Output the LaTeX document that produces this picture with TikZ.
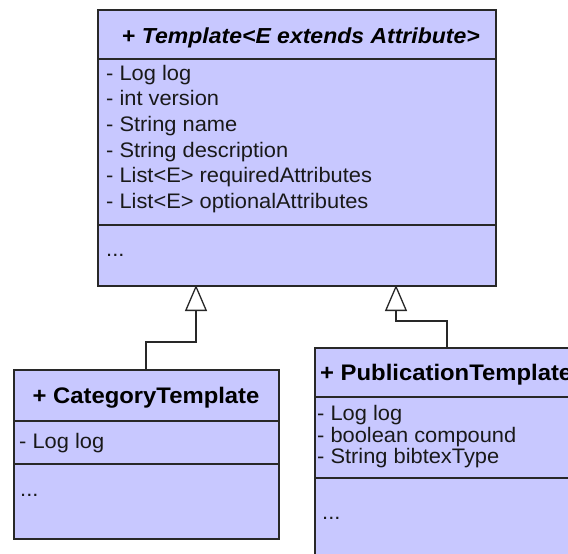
\documentclass[tikz,border=0pt]{standalone}
\usepackage{fontspec}
\setmainfont{Liberation Sans}[FakeStretch=1.04]
\newfontfamily\titlefont{Liberation Sans}[FakeStretch=1.06]
\usetikzlibrary{arrows.meta}
\definecolor{classfill}{RGB}{200,200,255}
\definecolor{edge}{RGB}{40,40,40}
\tikzset{
  classbox/.style={draw=edge, fill=classfill, line width=1.5pt, inner sep=0pt, anchor=north west},
  divider/.style={draw=edge, line width=1.5pt},
  member/.style={anchor=west, inner sep=0pt, font=\fontsize{21pt}{24pt}\selectfont, text=black!90, text height=15pt, text depth=4pt},
  cname/.style={inner sep=0pt, font=\titlefont\fontsize{22.5pt}{26pt}\selectfont\bfseries, text=black, text height=16pt, text depth=4pt},
  inherit/.style={draw=edge, line width=1.3pt, -{Triangle[open, length=26pt, width=22pt, fill=white]}},
}
\begin{document}
\begin{tikzpicture}[x=1pt, y=-1pt]
\useasboundingbox (0,0) rectangle (568,554);
\clip (0,0) rectangle (568,554);
\fill[white] (0,0) rectangle (568,554);

% abstract base class
\node[classbox, minimum width=398pt, minimum height=276pt] (tmpl) at (97,9) {};
\draw[divider] (97,59) -- (495,59);
\draw[divider] (97,225) -- (495,225);
\node[cname, font=\titlefont\fontsize{21.7pt}{26pt}\selectfont\bfseries] (tmplname) at (301,37) {+ \textit{Template<E extends Attribute>}};
\node[member] (t1) at (106,75) {- Log log};
\node[member] (t2) at (106,100) {- int version};
\node[member] (t3) at (106,126) {- String name};
\node[member] (t4) at (106,152) {- String description};
\node[member] (t5) at (106,177) {- List<E> requiredAttributes};
\node[member] (t6) at (106,203) {- List<E> optionalAttributes};
\node[member] (tops) at (106,251) {...};

% left subclass
\node[classbox, minimum width=265pt, minimum height=169pt] (cat) at (13,369) {};
\draw[divider] (13,421) -- (278,421);
\draw[divider] (13,464) -- (278,464);
\node[cname] (catname) at (146,397) {+ CategoryTemplate};
\node[member] (c1) at (19,443) {- Log log};
\node[member] (cops) at (20,491) {...};

% right subclass (runs past the edge)
\node[classbox, minimum width=300pt, minimum height=240pt] (pub) at (314,347) {};
\draw[divider] (314,397) -- (620,397);
\draw[divider] (314,478) -- (620,478);
\node[cname, anchor=west] (pubname) at (320,374) {+ PublicationTemplate};
\node[member] (p1) at (317,415) {- Log log};
\node[member] (p2) at (317,437) {- boolean compound};
\node[member] (p3) at (317,458) {- String bibtexType};
\node[member] (pops) at (322,514) {...};

% generalization connectors
\coordinate (gA) at (196,285);
\coordinate (jA) at (146,342);
\coordinate (gB) at (396,285);
\coordinate (jB) at (447,321);
\draw[inherit] (cat.north -| jA) -- (jA) -- (jA -| gA) -- (gA);
\draw[inherit] (pub.north -| jB) -- (jB) -- (jB -| gB) -- (gB);
\end{tikzpicture}
\end{document}
